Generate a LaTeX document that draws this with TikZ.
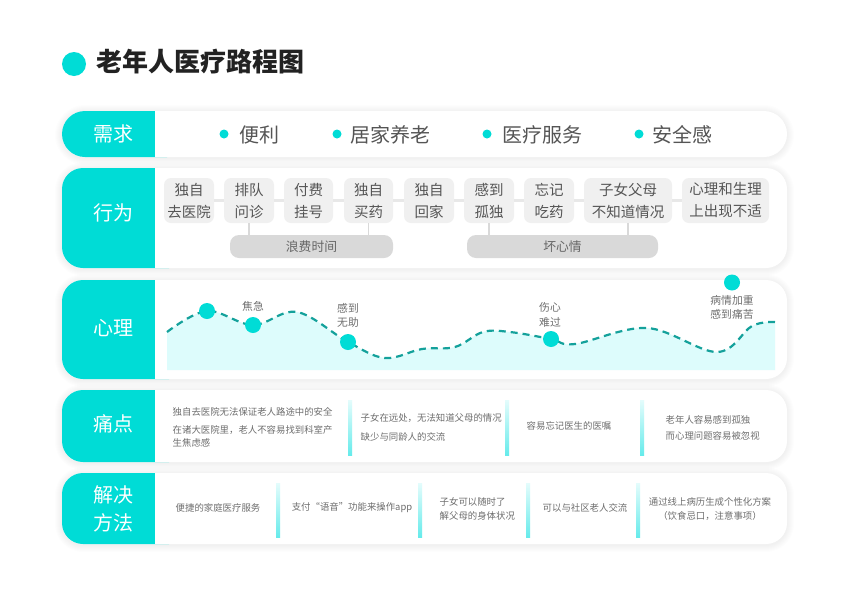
\documentclass[tikz,border=0pt]{standalone}
\usepackage{fontspec}
\setmainfont{Noto Sans CJK SC}
\definecolor{tealc}{HTML}{00DCD6}
\definecolor{dashc}{HTML}{14A19B}
\definecolor{areac}{HTML}{DDFCFC}
\definecolor{titlec}{HTML}{222222}
\definecolor{txt}{HTML}{555555}
\definecolor{txtm}{HTML}{666666}
\definecolor{txtl}{HTML}{6E6E6E}
\definecolor{boxc}{HTML}{F0F0F0}
\definecolor{barc}{HTML}{D9D9D9}
\definecolor{linec}{HTML}{E8E8E8}
\definecolor{divtop}{HTML}{E4FCFC}
\definecolor{divbot}{HTML}{66EBEB}
\newcommand\mysoftshadow[5]{%
  \foreach \i [evaluate=\i as \rr using #5+\i] in {1,...,7}{%
    \fill[black, opacity=0.007, rounded corners=\rr pt] (#1-\i,#2-\i+1) rectangle (#3+\i,#4+\i+1);}}
\newcommand\myrow[5]{%
  \mysoftshadow{#1}{#2}{#3}{#4}{#5}%
  \fill[white, rounded corners=#5] (#1,#2) rectangle (#3,#4);
  \fill[tealc, rounded corners=#5] (#1,#2) rectangle (190,#4);
  \fill[white] (155,#2) rectangle (192,#4);}
\begin{document}
\begin{tikzpicture}[x=1pt,y=-1pt,
  rowlbl/.style={text=white, font=\fontsize{20}{28}\selectfont, align=center, inner sep=0},
  need/.style={text=txt, font=\fontsize{20}{24}\selectfont, anchor=west, inner sep=0},
  ndot/.style={circle, fill=tealc, minimum size=9, inner sep=0},
  act/.style={fill=boxc, rounded corners=7, minimum height=45, inner sep=0, align=center, text=txt, font=\fontsize{14.5}{22}\selectfont},
  bar/.style={fill=barc, rounded corners=9, minimum height=23, inner sep=0, text=txtm, font=\fontsize{12.8}{14}\selectfont},
  link/.style={draw=linec, line width=3},
  vlink/.style={draw=barc, line width=1.5},
  mdot/.style={circle, fill=tealc, minimum size=16, inner sep=0},
  mlbl/.style={text=txtl, font=\fontsize{10.8}{14.5}\selectfont, align=center, inner sep=0},
  ptxt/.style={text=txtl, font=\fontsize{9.4}{13}\selectfont, anchor=west, inner sep=0, align=left},
  stxt/.style={text=txtl, font=\fontsize{9.4}{14}\selectfont, inner sep=0, align=center},
  divbar/.style={rectangle, minimum width=4, inner sep=0, top color=divtop, bottom color=divbot, draw=none},
]
\useasboundingbox (0,0) rectangle (849,600);
\fill[white] (0,0) rectangle (849,600);

% title
\node[circle, fill=tealc, minimum size=24, inner sep=0] (tdot) at (74,64) {};
\node[anchor=west, inner sep=0, text=titlec, font=\fontsize{26}{30}\selectfont\bfseries] (title) at (96,62) {老年人医疗路程图};

% row backgrounds
\myrow{62}{111}{787}{157}{23}
\myrow{62}{168}{787}{268}{21}
\myrow{62}{280}{787}{379}{21}
\myrow{62}{390}{787}{462}{21}
\myrow{62}{473}{787}{544}{21}

% row labels
\node[rowlbl] (l1) at (113,134) {需求};
\node[rowlbl] (l2) at (113,213) {行为};
\node[rowlbl] (l3) at (113,328) {心理};
\node[rowlbl] (l4) at (113,424) {痛点};
\node[rowlbl] (l5) at (113,509) {解决\\方法};

% row 1: needs
\node[ndot] (n1d) at (224,134) {};
\node[need] (n1) at (239,135) {便利};
\node[ndot] (n2d) at (337,134) {};
\node[need] (n2) at (350,135) {居家养老};
\node[ndot] (n3d) at (487,134) {};
\node[need] (n3) at (502,135) {医疗服务};
\node[ndot] (n4d) at (639,134) {};
\node[need] (n4) at (652,135) {安全感};

% row 2: behaviour
\node[act, minimum width=50] (b1) at (189,200.5) {独自\\去医院};
\node[act, minimum width=50] (b2) at (249,200.5) {排队\\问诊};
\node[act, minimum width=49] (b3) at (308.5,200.5) {付费\\挂号};
\node[act, minimum width=49] (b4) at (368.5,200.5) {独自\\买药};
\node[act, minimum width=50] (b5) at (429,200.5) {独自\\回家};
\node[act, minimum width=50] (b6) at (489,200.5) {感到\\孤独};
\node[act, minimum width=50] (b7) at (549,200.5) {忘记\\吃药};
\node[act, minimum width=88] (b8) at (628,200.5) {子女父母\\不知道情况};
\node[act, minimum width=87] (b9) at (725.5,200.5) {心理和生理\\上出现不适};
\foreach \a/\b in {b1/b2,b2/b3,b3/b4,b4/b5,b5/b6,b6/b7,b7/b8,b8/b9}
  \draw[link] (\a.east) -- (\b.west);

\node[bar, minimum width=163] (w1) at (311.5,246.5) {浪费时间};
\node[bar, minimum width=191] (w2) at (562.5,246.5) {坏心情};
\draw[vlink] (b2.south) -- (b2.south |- w1.north);
\draw[vlink] (b4.south) -- (b4.south |- w1.north);
\draw[vlink] (b6.south) -- (b6.south |- w2.north);
\draw[vlink] (b8.south) -- (b8.south |- w2.north);

% row 3: psychology curve
\fill[areac] plot[smooth, tension=0.6] coordinates {(167,332) (207,311) (253,325) (297,312) (348,342) (385,358) (422,349) (455,347) (483,332) (510,332) (551,339) (575,344) (647,328) (717,352) (752,326) (775,322)} -- (775,370) -- (167,370) -- cycle;
\draw[dashc, line width=2.2, dash pattern=on 7pt off 5pt] plot[smooth, tension=0.6] coordinates {(167,332) (207,311) (253,325) (297,312) (348,342) (385,358) (422,349) (455,347) (483,332) (510,332) (551,339) (575,344) (647,328) (717,352) (752,326) (775,322)};
\node[mdot] (m1) at (207,311) {};
\node[mdot] (m2) at (253,325) {};
\node[mdot] (m3) at (348,342) {};
\node[mdot] (m4) at (551,339) {};
\node[mdot] (m5) at (732,282.5) {};
\node[mlbl] (t2) at (253,306) {焦急};
\node[mlbl] (t3) at (348,315.5) {感到\\无助};
\node[mlbl] (t4) at (550,315) {伤心\\难过};
\node[mlbl, font=\fontsize{10.8}{14}\selectfont] (t5) at (732,307) {病情加重\\感到痛苦};

% row 4: pain points
\node[ptxt] (p1a) at (172.5,412) {独自去医院无法保证老人路途中的安全};
\node[ptxt] (p1b) at (172.5,436.5) {在诸大医院里，老人不容易找到科室产\\生焦虑感};
\node[divbar, minimum height=55] (v1) at (350,427.5) {};
\node[ptxt] (p2a) at (360.5,418) {子女在远处，无法知道父母的情况};
\node[ptxt] (p2b) at (360.5,437) {缺少与同龄人的交流};
\node[divbar, minimum height=55] (v2) at (507,427.5) {};
\node[stxt] (p3) at (569,426) {容易忘记医生的医嘱};
\node[divbar, minimum height=55] (v3) at (642,427.5) {};
\node[ptxt, font=\fontsize{9.4}{16}\selectfont] (p4) at (665.5,428) {老年人容易感到孤独\\而心理问题容易被忽视};

% row 5: solutions
\node[stxt] (s1) at (218,508) {便捷的家庭医疗服务};
\node[divbar, minimum height=54] (u1) at (278,510) {};
\node[stxt] (s2) at (352,508) {支付“语音”功能来操作app};
\node[divbar, minimum height=54] (u2) at (420,510) {};
\node[ptxt, font=\fontsize{9.4}{14}\selectfont] (s3) at (439.5,509) {子女可以随时了\\解父母的身体状况};
\node[divbar, minimum height=54] (u3) at (528,510) {};
\node[stxt] (s4) at (585,508) {可以与社区老人交流};
\node[divbar, minimum height=54] (u4) at (638,510) {};
\node[stxt] (s5) at (710,509) {通过线上病历生成个性化方案\\（饮食忌口，注意事项）};
\end{tikzpicture}
\end{document}
